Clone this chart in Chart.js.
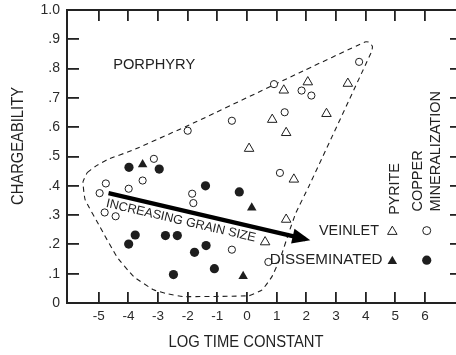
<!DOCTYPE html>
<html><head><meta charset="utf-8">
<script src="https://cdn.jsdelivr.net/npm/chart.js@4"></script>
<style>
html,body{margin:0;padding:0;overflow:hidden;background:#fff;width:456px;height:355px}
#wrap{width:470px;height:355px}
</style></head>
<body><div id="wrap"><canvas id="c" width="470" height="355"></canvas></div>
<script>
// ---- data ----
const X_TICKS = [-5,-4,-3,-2,-1,0,1,2,3,4,5,6];
const Y_TICKS = [0,0.1,0.2,0.3,0.4,0.5,0.6,0.7,0.8,0.9,1.0];
const Y_TICK_LABELS = ['0','.1','.2','.3','.4','.5','.6','.7','.8','.9','1.0'];

// copper mineralization, veinlet (open circles)
const VEINLET_COPPER = [[-3.14,0.492],[-4.76,0.408],[-3.52,0.418],[-3.99,0.390],[-4.97,0.375],[-4.80,0.309],[-4.43,0.296],[-1.85,0.373],[-1.81,0.341],[-0.51,0.182],[0.72,0.140],[1.11,0.444],[0.91,0.747],[1.27,0.651],[-0.51,0.622],[-2.00,0.588],[3.78,0.823],[1.84,0.725],[2.17,0.708]];
// copper mineralization, disseminated (filled circles)
const DISSEM_COPPER = [[-3.98,0.463],[-2.96,0.457],[-3.77,0.232],[-3.99,0.201],[-2.75,0.230],[-2.35,0.230],[-2.48,0.097],[-1.40,0.400],[-0.26,0.379],[-1.38,0.196],[-1.77,0.173],[-1.10,0.117]];
// pyrite, veinlet (open triangles)
const VEINLET_PYRITE = [[1.58,0.422],[1.32,0.285],[0.61,0.208],[1.24,0.726],[0.85,0.626],[1.32,0.581],[0.07,0.527],[2.05,0.754],[3.40,0.749],[2.68,0.646]];
// pyrite, disseminated (filled triangles)
const DISSEM_PYRITE = [[-3.52,0.473],[0.16,0.325],[-0.13,0.091]];
// porphyry field outline
const PORPHYRY_BOUNDARY = [[-5.39,0.445],[-5.13,0.465],[-4.72,0.489],[-3.82,0.523],[-1.81,0.614],[1.75,0.785],[3.98,0.891],[4.13,0.890],[4.23,0.875],[4.20,0.858],[2.08,0.397],[1.65,0.308],[1.41,0.240],[1.14,0.158],[0.84,0.090],[0.51,0.045],[0.07,0.025],[-2.14,0.022],[-2.71,0.032],[-3.15,0.045],[-3.82,0.090],[-4.39,0.158],[-4.96,0.260],[-5.46,0.353],[-5.53,0.414],[-5.39,0.445]];
// increasing grain size arrow
const GRAIN_ARROW = [[-4.67,0.375],[1.97,0.218]];

// ---- chart ----
const FONT = "'Liberation Sans', Arial, Helvetica, sans-serif";
const INK = '#1e1e1e';
Chart.defaults.font.family = FONT;
Chart.defaults.color = '#2a2a2a';
const toXY = a => a.map(([x, y]) => ({x, y}));

function drawTri(ctx, cx, cy, r, filled) {
  ctx.beginPath();
  for (let i = 0; i < 3; i++) {
    const ang = -Math.PI / 2 + i * 2 * Math.PI / 3;
    const px = cx + r * Math.cos(ang), py = cy + r * Math.sin(ang);
    i ? ctx.lineTo(px, py) : ctx.moveTo(px, py);
  }
  ctx.closePath();
  if (filled) { ctx.fillStyle = INK; ctx.fill(); }
  else { ctx.fillStyle = '#fff'; ctx.fill(); ctx.lineWidth = 1; ctx.strokeStyle = INK; ctx.stroke(); }
}
function drawCirc(ctx, cx, cy, r, filled) {
  ctx.beginPath(); ctx.arc(cx, cy, r, 0, 2 * Math.PI);
  if (filled) { ctx.fillStyle = INK; ctx.fill(); }
  else { ctx.fillStyle = '#fff'; ctx.fill(); ctx.lineWidth = 1; ctx.strokeStyle = INK; ctx.stroke(); }
}

const framePlugin = {
  id: 'plotFrame',
  afterDraw(chart) {
    const ctx = chart.ctx, a = chart.chartArea;
    const sx = chart.scales.x, sy = chart.scales.y;
    const L = Math.round(a.left), T = Math.round(a.top), R = Math.round(a.right), B = Math.round(a.bottom);
    ctx.save();
    ctx.fillStyle = '#222';
    X_TICKS.forEach(v => {
      const px = Math.round(sx.getPixelForValue(v));
      ctx.fillRect(px - 1, B - 11, 1.8, 11);
      ctx.fillRect(px - 1, T, 1.8, 11);
    });
    Y_TICKS.forEach(v => {
      const py = Math.round(sy.getPixelForValue(v));
      ctx.fillRect(L, py - 1, 12, 1.8);
      ctx.fillRect(R - 14, py - 1, 14, 1.8);
    });
    ctx.fillRect(L - 1, T - 1, R - L + 2, 2);
    ctx.fillRect(L - 1, B - 1, R - L + 2, 2);
    ctx.fillRect(L - 1, T - 1, 2, B - T + 2);
    ctx.fillRect(R - 1, T - 1, 2, B - T + 2);
    ctx.restore();
  }
};

const annotPlugin = {
  id: 'annot',
  afterDatasetsDraw(chart) {
    const {ctx, scales: {x, y}} = chart;
    const P = (dx, dy) => [x.getPixelForValue(dx), y.getPixelForValue(dy)];
    ctx.save();
    ctx.setLineDash([]);
    // arrow head
    const [x0, y0] = P(...GRAIN_ARROW[0]);
    const [x1, y1] = P(...GRAIN_ARROW[GRAIN_ARROW.length - 1]);
    const ang = Math.atan2(y1 - y0, x1 - x0);
    const ux = Math.cos(ang), uy = Math.sin(ang);
    const tx = x1 + 5 * ux, ty = y1 + 5 * uy, L = 18, W = 7.5;
    ctx.fillStyle = '#000';
    ctx.beginPath();
    ctx.moveTo(tx, ty);
    ctx.lineTo(tx - L * ux - W * uy, ty - L * uy + W * ux);
    ctx.lineTo(tx - L * ux + W * uy, ty - L * uy - W * ux);
    ctx.closePath(); ctx.fill();
    // arrow caption
    const t = 0.38;
    const cx = x0 + (x1 - x0) * t - uy * 10.5, cy = y0 + (y1 - y0) * t + ux * 10.5;
    ctx.save();
    ctx.translate(cx, cy); ctx.rotate(ang);
    ctx.font = '12.6px ' + FONT; ctx.fillStyle = '#222';
    ctx.textAlign = 'center'; ctx.textBaseline = 'middle';
    ctx.fillText('INCREASING GRAIN SIZE', 0, 0);
    ctx.restore();
    // field label
    ctx.font = '15px ' + FONT; ctx.fillStyle = '#222';
    ctx.textAlign = 'center'; ctx.textBaseline = 'middle';
    const [lx, ly] = P(-3.13, 0.813);
    ctx.fillText('PORPHYRY', lx, ly, 82);
    // legend
    ctx.textAlign = 'right';
    ctx.font = '14.8px ' + FONT;
    const [ax, ay] = P(4.45, 0.247); ctx.fillText('VEINLET', ax, ay, 60);
    ctx.font = '15.2px ' + FONT;
    const [bx, by] = P(4.57, 0.146); ctx.fillText('DISSEMINATED', bx, by, 113);
    const [mx1] = P(4.9, 0), [mx2] = P(6.06, 0);
    drawTri(ctx, mx1, ay + 1, 5.5, false);
    drawCirc(ctx, mx2, ay, 4, false);
    drawTri(ctx, mx1, by + 1, 5.5, true);
    drawCirc(ctx, mx2, by, 4.6, true);
    ctx.fillStyle = '#222';
    const vtext = (txt, dx, dy, size) => {
      const [px, py] = P(dx, dy);
      ctx.save(); ctx.translate(px, py); ctx.rotate(-Math.PI / 2);
      ctx.font = size + 'px ' + FONT; ctx.textAlign = 'left'; ctx.textBaseline = 'middle';
      ctx.fillText(txt, 0, 0); ctx.restore();
    };
    vtext('PYRITE', 4.98, 0.301, 14.3);
    vtext('COPPER', 5.77, 0.312, 14.5);
    vtext('MINERALIZATION', 6.37, 0.312, 14.5);
    // axis titles
    ctx.save(); ctx.translate(19, 146); ctx.rotate(-Math.PI / 2);
    ctx.font = '16px ' + FONT; ctx.textAlign = 'center'; ctx.textBaseline = 'middle';
    ctx.fillText('CHARGEABILITY', 0, 0, 118); ctx.restore();
    ctx.font = '16px ' + FONT; ctx.textAlign = 'center'; ctx.textBaseline = 'middle';
    ctx.fillText('LOG TIME CONSTANT', 246, 342.5, 155);
    ctx.restore();
  }
};

new Chart(document.getElementById('c'), {
  type: 'scatter',
  data: {
    datasets: [
      {label: 'Porphyry', data: toXY(PORPHYRY_BOUNDARY), showLine: true, borderColor: INK, borderWidth: 1.1,
       borderDash: [5, 4], pointRadius: 0, tension: 0.12, fill: false, order: 5},
      {label: 'Increasing grain size', data: toXY(GRAIN_ARROW), showLine: true, borderColor: '#000', borderWidth: 4.2,
       pointRadius: 0, borderCapStyle: 'butt', order: 4},
      {label: 'Copper veinlet', data: toXY(VEINLET_COPPER), pointStyle: 'circle', pointRadius: 3.6,
       backgroundColor: '#fff', borderColor: INK, borderWidth: 1, order: 1},
      {label: 'Copper disseminated', data: toXY(DISSEM_COPPER), pointStyle: 'circle', pointRadius: 4.6,
       backgroundColor: INK, borderColor: INK, borderWidth: 0, order: 1},
      {label: 'Pyrite veinlet', data: toXY(VEINLET_PYRITE), pointStyle: 'triangle', pointRadius: 5.5,
       backgroundColor: '#fff', borderColor: INK, borderWidth: 1, order: 1},
      {label: 'Pyrite disseminated', data: toXY(DISSEM_PYRITE), pointStyle: 'triangle', pointRadius: 5.5,
       backgroundColor: INK, borderColor: INK, borderWidth: 0, order: 1}
    ]
  },
  options: {
    responsive: false, animation: false, devicePixelRatio: 1,
    layout: {padding: {top: 10, right: 4, left: 0, bottom: 0}},
    plugins: {legend: {display: false}, tooltip: {enabled: false}},
    scales: {
      x: {
        type: 'linear', position: 'bottom', min: -6.07, max: 7.3,
        grid: {display: false, drawTicks: false}, border: {display: false},
        afterBuildTicks: s => { s.ticks = X_TICKS.map(v => ({value: v})); },
        afterFit: s => { s.height = 52; s.paddingLeft = 0; s.paddingRight = 0; },
        ticks: {autoSkip: false, maxRotation: 0, padding: 5, color: '#2a2a2a', font: {size: 13.5},
                callback: v => String(v)}
      },
      y: {
        type: 'linear', position: 'left', min: 0, max: 1,
        grid: {display: false, drawTicks: false}, border: {display: false},
        afterBuildTicks: s => { s.ticks = Y_TICKS.map(v => ({value: v})); },
        afterFit: s => { s.width = 67; s.paddingTop = 0; s.paddingBottom = 0; },
        ticks: {autoSkip: false, padding: 7, color: '#2a2a2a', font: {size: 14},
                callback: (v, i) => Y_TICK_LABELS[i]}
      }
    }
  },
  plugins: [annotPlugin, framePlugin]
});
</script>
</body></html>
